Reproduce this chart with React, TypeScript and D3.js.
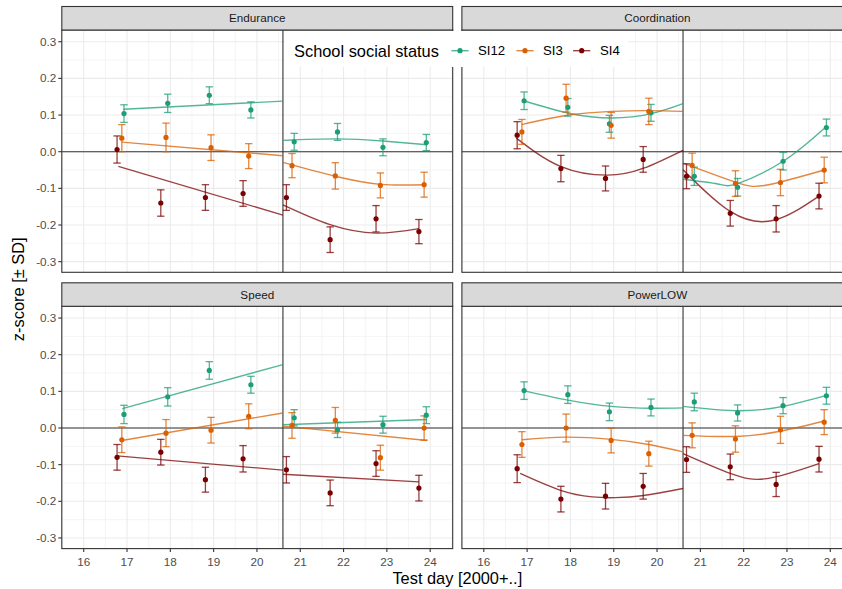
import React from "react";
import * as d3 from "d3";

// ---------- data ----------
const panelNames = ["Endurance", "Coordination", "Speed", "PowerLOW"];
const seriesNames = ["SI12", "SI3", "SI4"];
const seriesColors = ["#1b9e77", "#d95f02", "#7a0000"];
const dayTicks = [16, 17, 18, 19, 20, 21, 22, 23, 24];
const zTicks = [-0.3, -0.2, -0.1, 0, 0.1, 0.2, 0.3];
const breakDay = 20.6;

// observation days (dodged per series)
const daysSI12 = [16.93, 17.94, 18.9, 19.86, 20.86, 21.86, 22.91, 23.91];
const daysSI3 = [16.88, 17.9, 18.94, 19.81, 20.81, 21.81, 22.85, 23.86];
const daysSI4 = [16.77, 17.78, 18.81, 19.68, 20.68, 21.69, 22.75, 23.74];

// means [SI12, SI3, SI4]
const enduranceMeans = [
  [0.104, 0.132, 0.154, 0.114, 0.027, 0.054, 0.012, 0.025],
  [0.037, 0.039, 0.011, -0.012, -0.038, -0.066, -0.092, -0.09],
  [0.006, -0.14, -0.125, -0.114, -0.125, -0.24, -0.183, -0.218],
];
const enduranceSE = [
  [0.024, 0.025, 0.023, 0.022, 0.023, 0.023, 0.023, 0.022],
  [0.037, 0.039, 0.035, 0.034, 0.033, 0.036, 0.034, 0.034],
  [0.037, 0.036, 0.035, 0.035, 0.035, 0.035, 0.036, 0.033],
];
const coordinationMeans = [
  [0.139, 0.121, 0.076, 0.106, -0.067, -0.097, -0.026, 0.066],
  [0.054, 0.146, 0.072, 0.11, -0.037, -0.087, -0.084, -0.05],
  [0.045, -0.046, -0.073, -0.021, -0.067, -0.168, -0.183, -0.121],
];
const coordinationSE = [
  [0.024, 0.024, 0.023, 0.023, 0.025, 0.024, 0.024, 0.023],
  [0.034, 0.038, 0.035, 0.036, 0.033, 0.035, 0.036, 0.035],
  [0.037, 0.036, 0.034, 0.035, 0.034, 0.035, 0.036, 0.035],
];
const speedMeans = [
  [0.037, 0.085, 0.157, 0.118, 0.028, -0.005, 0.009, 0.035],
  [-0.032, -0.014, -0.006, 0.032, 0.007, 0.021, -0.081, 0.0],
  [-0.08, -0.066, -0.141, -0.084, -0.114, -0.177, -0.097, -0.164],
];
const speedSE = [
  [0.025, 0.025, 0.024, 0.023, 0.022, 0.021, 0.023, 0.023],
  [0.035, 0.037, 0.035, 0.034, 0.035, 0.035, 0.034, 0.033],
  [0.035, 0.035, 0.034, 0.036, 0.036, 0.035, 0.035, 0.035],
];
const powerMeans = [
  [0.102, 0.091, 0.044, 0.056, 0.071, 0.041, 0.061, 0.088],
  [-0.045, 0.0, -0.034, -0.07, -0.02, -0.03, -0.005, 0.016],
  [-0.111, -0.194, -0.186, -0.159, -0.086, -0.106, -0.154, -0.085],
];
const powerSE = [
  [0.024, 0.024, 0.024, 0.023, 0.024, 0.022, 0.022, 0.023],
  [0.035, 0.038, 0.034, 0.034, 0.034, 0.036, 0.037, 0.034],
  [0.038, 0.035, 0.035, 0.035, 0.035, 0.035, 0.033, 0.035],
];

// fitted curves: [series index, [[day, z], ...]]
const enduranceFits: [number, number[][]][] = [
  [0, [[16.92, 0.116], [20.6, 0.138]]],
  [0, [[20.6, 0.031], [21.86, 0.035], [22.91, 0.029], [23.93, 0.019]]],
  [1, [[16.88, 0.026], [20.6, -0.011]]],
  [1, [[20.6, -0.029], [21.81, -0.067], [22.85, -0.089], [23.86, -0.09]]],
  [2, [[16.8, -0.04], [20.6, -0.173]]],
  [2, [[20.6, -0.145], [21.69, -0.199], [22.75, -0.222], [23.74, -0.21]]],
];
const coordinationFits: [number, number[][]][] = [
  [0, [[16.92, 0.139], [17.96, 0.105], [18.96, 0.092], [19.87, 0.104], [20.6, 0.131]]],
  [0, [[20.6, -0.075], [21.4, -0.088], [21.86, -0.087], [22.91, -0.026], [23.91, 0.069]]],
  [1, [[16.87, 0.074], [17.96, 0.1], [18.96, 0.11], [19.8, 0.112], [20.6, 0.11]]],
  [1, [[20.6, -0.031], [21.81, -0.083], [22.54, -0.091], [23.86, -0.05]]],
  [2, [[16.75, 0.037], [17.77, -0.04], [18.85, -0.064], [19.69, -0.045], [20.6, 0.004]]],
  [2, [[20.6, -0.049], [21.69, -0.163], [22.7, -0.187], [23.74, -0.121]]],
];
const speedFits: [number, number[][]][] = [
  [0, [[16.89, 0.053], [20.6, 0.173]]],
  [0, [[20.6, 0.009], [23.93, 0.023]]],
  [1, [[16.88, -0.034], [20.6, 0.041]]],
  [1, [[20.6, 0.005], [23.93, -0.034]]],
  [2, [[16.77, -0.076], [20.6, -0.115]]],
  [2, [[20.6, -0.126], [23.74, -0.147]]],
];
const powerFits: [number, number[][]][] = [
  [0, [[16.92, 0.102], [17.94, 0.076], [18.94, 0.059], [19.87, 0.054], [20.6, 0.055]]],
  [0, [[20.6, 0.059], [21.86, 0.047], [22.91, 0.059], [23.91, 0.089]]],
  [1, [[16.88, -0.032], [17.88, -0.025], [18.94, -0.031], [19.81, -0.045], [20.6, -0.065]]],
  [1, [[20.6, -0.02], [21.81, -0.023], [22.84, -0.009], [23.86, 0.019]]],
  [2, [[16.84, -0.124], [17.77, -0.17], [18.5, -0.188], [19.04, -0.19], [19.69, -0.184], [20.6, -0.165]]],
  [2, [[20.6, -0.07], [21.69, -0.124], [22.54, -0.138], [23.74, -0.097]]],
];

const seriesDays = [daysSI12, daysSI3, daysSI4];
const panelMeans = [enduranceMeans, coordinationMeans, speedMeans, powerMeans];
const panelSE = [enduranceSE, coordinationSE, speedSE, powerSE];
const panelFits = [enduranceFits, coordinationFits, speedFits, powerFits];

// ---------- layout ----------
const W = 842;
const H = 589;
const colX = [61.8, 461.9];
const panelW = 390.9;
const rowY = [30, 306.3];
const panelH = 242.3;
const stripH = 23.5;
const FONT = "'Liberation Sans', Arial, Helvetica, sans-serif";

function Panel({ idx }: { idx: number }) {
  const col = idx % 2;
  const row = Math.floor(idx / 2);
  const x0 = colX[col];
  const y0 = rowY[row];
  const x = d3.scaleLinear().domain([15.494, 24.52]).range([x0, x0 + panelW]);
  const y = d3.scaleLinear().domain([-0.329, 0.332]).range([y0 + panelH, y0]);
  const minorX = d3.range(15.5, 24.6, 1);
  const minorY = d3.range(-0.25, 0.3, 0.1);
  const line = d3
    .line<number[]>()
    .x((d) => x(d[0]))
    .y((d) => y(d[1]))
    .curve(d3.curveNatural);
  const cap = 3.7;
  return (
    <g>
      <rect x={x0} y={y0} width={panelW} height={panelH} fill="#fff" />
      {minorX.map((v) => (
        <line key={"mx" + v} x1={x(v)} x2={x(v)} y1={y0} y2={y0 + panelH} stroke="#ebebeb" strokeWidth={0.55} />
      ))}
      {minorY.map((v) => (
        <line key={"my" + v} x1={x0} x2={x0 + panelW} y1={y(v)} y2={y(v)} stroke="#ebebeb" strokeWidth={0.55} />
      ))}
      {dayTicks.map((v) => (
        <line key={"gx" + v} x1={x(v)} x2={x(v)} y1={y0} y2={y0 + panelH} stroke="#ebebeb" strokeWidth={1.1} />
      ))}
      {zTicks.map((v) => (
        <line key={"gy" + v} x1={x0} x2={x0 + panelW} y1={y(v)} y2={y(v)} stroke="#ebebeb" strokeWidth={1.1} />
      ))}
      <line x1={x0} x2={x0 + panelW} y1={y(0)} y2={y(0)} stroke="#333" strokeWidth={1.1} />
      <line x1={x(breakDay)} x2={x(breakDay)} y1={y0} y2={y0 + panelH} stroke="#333" strokeWidth={1.1} />
      {panelFits[idx].map(([s, pts], i) => (
        <path key={"f" + i} d={line(pts) || ""} fill="none" stroke={seriesColors[s]} strokeOpacity={0.75} strokeWidth={1.4} />
      ))}
      {seriesNames.map((_, s) =>
        seriesDays[s].map((dv, i) => {
          const m = panelMeans[idx][s][i];
          const se = panelSE[idx][s][i];
          const xp = x(dv);
          const yt = y(m + se);
          const yb = y(m - se);
          return (
            <g key={"e" + s + "-" + i} stroke={seriesColors[s]} strokeOpacity={0.75} strokeWidth={1.3}>
              <line x1={xp} x2={xp} y1={yt} y2={yb} />
              <line x1={xp - cap} x2={xp + cap} y1={yt} y2={yt} />
              <line x1={xp - cap} x2={xp + cap} y1={yb} y2={yb} />
            </g>
          );
        })
      )}
      {seriesNames.map((_, s) =>
        seriesDays[s].map((dv, i) => (
          <circle key={"p" + s + "-" + i} cx={x(dv)} cy={y(panelMeans[idx][s][i])} r={2.6} fill={seriesColors[s]} />
        ))
      )}
      <rect x={x0} y={y0} width={panelW} height={panelH} fill="none" stroke="#333" strokeWidth={1.1} />
      {/* strip */}
      <rect x={x0} y={y0 - stripH} width={panelW} height={stripH} fill="#d9d9d9" stroke="#333" strokeWidth={1.1} />
      <text x={x0 + panelW / 2} y={y0 - stripH / 2 + 4.2} textAnchor="middle" fontSize={11.7} fill="#1a1a1a" fontFamily={FONT}>
        {panelNames[idx]}
      </text>
      {/* y axis */}
      {col === 0 &&
        zTicks.map((v) => (
          <g key={"yt" + v}>
            <line x1={x0 - 3.5} x2={x0} y1={y(v)} y2={y(v)} stroke="#333" strokeWidth={1.1} />
            <text x={x0 - 5.5} y={y(v) + 4.1} textAnchor="end" fontSize={11.7} fill="#4d4d4d" fontFamily={FONT}>
              {v.toFixed(1)}
            </text>
          </g>
        ))}
      {/* x axis */}
      {row === 1 &&
        dayTicks.map((v) => (
          <g key={"xt" + v}>
            <line x1={x(v)} x2={x(v)} y1={y0 + panelH} y2={y0 + panelH + 3.5} stroke="#333" strokeWidth={1.1} />
            <text x={x(v)} y={y0 + panelH + 17.3} textAnchor="middle" fontSize={11.7} fill="#4d4d4d" fontFamily={FONT}>
              {v}
            </text>
          </g>
        ))}
    </g>
  );
}

function Legend() {
  const keyX = [460, 525, 581.7];
  const labX = [478, 543, 600];
  const cy = 50.7;
  return (
    <g fontFamily={FONT}>
      <rect x={285} y={31} width={343} height={36} fill="#fff" />
      <text x={294} y={cy + 5.9} fontSize={16.4} fill="#000">
        School social status
      </text>
      {seriesNames.map((n, i) => (
        <g key={n}>
          <line x1={keyX[i] - 8.6} x2={keyX[i] + 8.6} y1={cy} y2={cy} stroke={seriesColors[i]} strokeOpacity={0.75} strokeWidth={1.4} />
          <circle cx={keyX[i]} cy={cy} r={2.6} fill={seriesColors[i]} />
          <text x={labX[i]} y={cy + 4.7} fontSize={13.2} fill="#000">
            {n}
          </text>
        </g>
      ))}
    </g>
  );
}

export default function App() {
  return (
    <svg width={W} height={H} style={{ position: "absolute", left: 0, top: 0, background: "#fff" }}>
      <rect x={0} y={0} width={W} height={H} fill="#fff" />
      {panelNames.map((_, i) => (
        <Panel key={i} idx={i} />
      ))}
      <Legend />
      <text x={(colX[0] + colX[1] + panelW) / 2} y={583.5} textAnchor="middle" fontSize={16.4} fill="#000" fontFamily={FONT}>
        Test day [2000+..]
      </text>
      <text
        transform={`translate(23.5, ${(rowY[0] + rowY[1] + panelH) / 2}) rotate(-90)`}
        textAnchor="middle"
        fontSize={16.4}
        fill="#000"
        fontFamily={FONT}
      >
        z-score [± SD]
      </text>
    </svg>
  );
}
